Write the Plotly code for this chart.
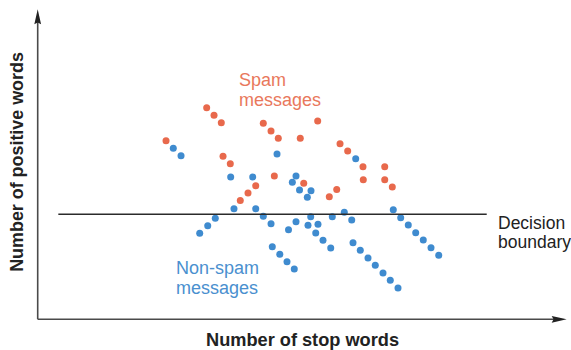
import plotly.graph_objects as go

# Feature space: x = number of stop words, y = number of positive words
spam_x = [17.11, 22.53, 23.51, 24.48, 30.08, 31.11, 32.08, 35.01, 37.33, 24.71,
          25.68, 31.55, 29.07, 28.04, 27.01, 35.47, 40.31, 41.33, 43.37, 46.27,
          43.41, 46.27, 47.28, 39.87, 38.88]
spam_y = [23.81, 28.21, 27.20, 26.21, 26.13, 25.11, 24.13, 24.13, 26.44, 21.73,
          20.75, 19.11, 17.81, 16.84, 15.84, 18.13, 23.41, 22.44, 20.35, 20.35,
          18.61, 18.61, 17.64, 17.31, 16.35]

ham_x = [18.08, 19.11, 31.91, 25.73, 28.67, 34.44, 33.95, 34.91, 36.44, 35.95,
         42.40, 26.17, 29.07, 30.08, 31.11, 23.68, 22.67, 21.60, 34.44, 33.44,
         31.28, 32.28, 33.24, 34.21, 36.40, 39.28, 40.88, 41.87, 36.04, 37.37,
         37.07, 38.04, 39.07, 47.41, 48.40, 49.41, 50.40, 51.41, 52.44, 53.47,
         42.04, 43.01, 44.04, 45.01, 46.04, 47.01, 48.04]
ham_y = [22.80, 21.81, 22.04, 18.97, 18.97, 19.11, 18.27, 17.24, 17.13, 16.27,
         21.41, 14.75, 14.75, 13.73, 12.75, 13.47, 12.48, 11.47, 13.01, 11.95,
         9.68, 8.68, 7.68, 6.71, 13.68, 13.68, 14.27, 13.24, 12.53, 12.67,
         11.51, 10.53, 9.51, 14.61, 13.55, 12.57, 11.55, 10.57, 9.55, 8.53,
         10.21, 9.20, 8.17, 7.20, 6.17, 5.20, 4.17]

boundary_y = 14.0
boundary_x = [2.75, 59.87]

x_axis_end = 70.53
y_axis_end = 41.33

ORANGE = "#E8694C"
ORANGE_TXT = "#E9785C"
BLUE = "#3F8BCF"
BLUE_TXT = "#4A90CF"
FONT = "Liberation Sans, Arial, sans-serif"

W, H = 571, 350
PX = 7.5          # pixels per data unit
ORIGIN = (37.7, 319.3)

fig = go.Figure()

fig.add_trace(go.Scatter(x=spam_x, y=spam_y, mode="markers",
                         marker=dict(size=7, color=ORANGE), name="Spam"))
fig.add_trace(go.Scatter(x=ham_x, y=ham_y, mode="markers",
                         marker=dict(size=7, color=BLUE), name="Non-spam"))

# decision boundary
fig.add_trace(go.Scatter(x=boundary_x, y=[boundary_y, boundary_y], mode="lines",
                         line=dict(color="#2b2b2b", width=1.5), hoverinfo="skip"))

shapes = []
axis_col = "#4a4a4a"
# axes
shapes.append(dict(type="line", x0=0, y0=0, x1=x_axis_end - 1.5, y1=0,
                   line=dict(color=axis_col, width=1.6), layer="below"))
shapes.append(dict(type="line", x0=0, y0=0, x1=0, y1=y_axis_end - 1.5,
                   line=dict(color=axis_col, width=1.6), layer="below"))
# arrow heads
hl, hw, notch = 2.0, 0.45, 0.25
t = x_axis_end
shapes.append(dict(type="path",
                   path=f"M {t},0 L {t-hl},{hw} L {t-hl+notch},0 L {t-hl},{-hw} Z",
                   fillcolor="#222", line=dict(width=0)))
t = y_axis_end
shapes.append(dict(type="path",
                   path=f"M 0,{t} L {hw},{t-hl} L 0,{t-hl+notch} L {-hw},{t-hl} Z",
                   fillcolor="#222", line=dict(width=0)))


def label(text, x, y, color, size=18, **kw):
    return dict(text=text, x=x, y=y, xref="x", yref="y", showarrow=False,
                xanchor=kw.pop("xanchor", "left"), yanchor="middle",
                font=dict(family=FONT, size=size, color=color), **kw)


annotations = [
    label("Spam", 26.53, 31.9, ORANGE_TXT),
    label("messages", 26.53, 29.25, ORANGE_TXT),
    label("Non-spam", 18.17, 6.85, BLUE_TXT),
    label("messages", 18.17, 4.2, BLUE_TXT),
    label("Decision", 61.1, 12.85, "#222", size=17.5),
    label("boundary", 61.1, 10.3, "#222", size=17.5),
    label("<b>Number of stop words</b>", 35.3, -2.76, "#222", size=18.2,
          xanchor="center"),
    label("<b>Number of positive words</b>", -2.76, 21.0, "#222", size=17.9,
          xanchor="center", textangle=-90),
]

fig.update_layout(
    width=W, height=H,
    margin=dict(l=0, r=0, t=0, b=0),
    paper_bgcolor="white", plot_bgcolor="white",
    showlegend=False,
    xaxis=dict(range=[-ORIGIN[0] / PX, (W - ORIGIN[0]) / PX], visible=False,
               fixedrange=True),
    yaxis=dict(range=[-(H - ORIGIN[1]) / PX, ORIGIN[1] / PX], visible=False,
               fixedrange=True),
    shapes=shapes,
    annotations=annotations,
)

fig.write_html("out.html")
